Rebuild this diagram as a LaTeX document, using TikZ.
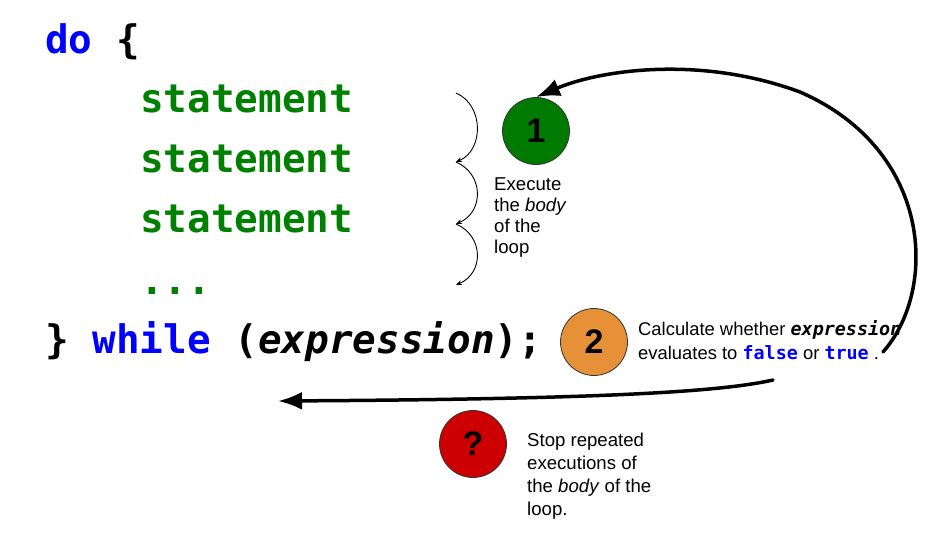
\documentclass[tikz,border=0pt]{standalone}
\usepackage{fontspec}
\setmainfont{Liberation Sans}
\setmonofont{DejaVu Sans Mono}
\usetikzlibrary{arrows.meta}
\definecolor{kwblue}{RGB}{0,0,255}
\definecolor{stmtgreen}{RGB}{0,128,0}
\definecolor{stepgreen}{RGB}{0,122,0}
\definecolor{steporange}{RGB}{230,145,56}
\definecolor{stepred}{RGB}{204,0,0}

\begin{document}
\begin{tikzpicture}[x=1pt,y=-1pt,>=Latex,
  code/.style={anchor=base west,inner sep=0,font=\ttfamily\bfseries\fontsize{39.3}{39}\selectfont},
  note/.style={anchor=north west,inner sep=0,align=left},
  stepdot/.style={circle,draw=black!80,line width=0.8,minimum size=67pt,inner sep=0,font=\bfseries\fontsize{34}{34}\selectfont},
  bigarrow/.style={line width=3.5,line cap=round,-{Latex[length=24pt,width=18pt]}},
  bodyarc/.style={line width=0.9,-{Stealth[length=6pt,width=5pt]}}]
\useasboundingbox (0,0) rectangle (948,536);
% the loop code
\node[code] (dokw) at (45,53) {\textcolor{kwblue}{do} \{};
\node[code,stmtgreen] (stmt1) at (140,112) {statement};
\node[code,stmtgreen] (stmt2) at (140,172) {statement};
\node[code,stmtgreen] (stmt3) at (140,232) {statement};
\node[code,stmtgreen] (dots) at (140,294) {...};
\node[code] (whilekw) at (45,353) {\} \textcolor{kwblue}{while} (\textit{expression});};
% steps
\node[stepdot,fill=stepgreen] (one) at (536,131) {1};
\node[stepdot,fill=steporange] (two) at (594,342) {2};
\node[stepdot,fill=stepred] (stop) at (473,444) {?};
\node[note,font=\fontsize{18.6}{21}\selectfont] (bodynote) at (494,177) {Execute\\the \textit{body}\\of the\\loop};
\node[note,font=\fontsize{18.4}{24}\selectfont] (evalnote) at (638,320) {Calculate whether \texttt{\bfseries\itshape expression}\\evaluates to \texttt{\bfseries\textcolor{kwblue}{false}} or \texttt{\bfseries\textcolor{kwblue}{true}} .};
\node[note,font=\fontsize{18.6}{23}\selectfont] (stopnote) at (527,433) {Stop repeated\\executions of\\the \textit{body} of the\\loop.};
% body arcs
\foreach \i/\y in {0/93,1/162,2/224,3/285}
  \coordinate (b\i) at (456,\y);
\foreach \a/\b in {b0/b1,b1/b2,b2/b3}
  \draw[bodyarc] (\a) .. controls +(28,12) and +(28,-12) .. (\b);
% loop back and exit
\coordinate (loopstart) at (883,352);
\coordinate (exitstart) at (773,380);
\coordinate (exitend) at (278,401);
\draw[bigarrow] (loopstart) .. controls (938,290) and (933,150) .. (800,92) .. controls (700,55) and (600,70) .. (one.north);
\draw[bigarrow] (exitstart) .. controls (720,392) and (600,399) .. (exitend);
\end{tikzpicture}
\end{document}
